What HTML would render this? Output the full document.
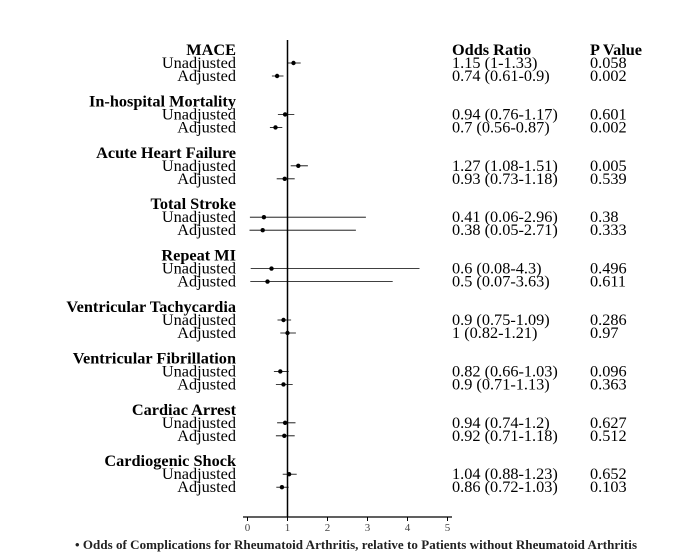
<!DOCTYPE html>
<html><head><meta charset="utf-8">
<style>
body{margin:0;background:#fff;}
svg{display:block;font-family:"Liberation Serif",serif;}
</style></head>
<body>
<svg id="c" width="678" height="554"></svg>
<script>
const outcomes=["MACE","In-hospital Mortality","Acute Heart Failure","Total Stroke","Repeat MI","Ventricular Tachycardia","Ventricular Fibrillation","Cardiac Arrest","Cardiogenic Shock"];
const unadjOR=[1.15,0.94,1.27,0.41,0.6,0.9,0.82,0.94,1.04];
const unadjLo=[1,0.76,1.08,0.06,0.08,0.75,0.66,0.74,0.88];
const unadjHi=[1.33,1.17,1.51,2.96,4.3,1.09,1.03,1.2,1.23];
const unadjP=["0.058","0.601","0.005","0.38","0.496","0.286","0.096","0.627","0.652"];
const adjOR=[0.74,0.7,0.93,0.38,0.5,1,0.9,0.92,0.86];
const adjLo=[0.61,0.56,0.73,0.05,0.07,0.82,0.71,0.71,0.72];
const adjHi=[0.9,0.87,1.18,2.71,3.63,1.21,1.13,1.18,1.03];
const adjP=["0.002","0.002","0.539","0.333","0.611","0.97","0.363","0.512","0.103"];
const ticks=[0,1,2,3,4,5];

const svg=document.getElementById('c');
const NS="http://www.w3.org/2000/svg";
const xs=v=>247.5+v*40;
const gy=i=>50+i*51.4;
const FS=16.3;
function mk(tag,attrs,txt){const e=document.createElementNS(NS,tag);for(const k in attrs)e.setAttribute(k,attrs[k]);if(txt!=null)e.textContent=txt;svg.appendChild(e);return e;}

let e=mk('line',{x1:243,y1:517,x2:452,y2:517,stroke:'#000','stroke-width':1.3});


ticks.forEach(t=>{
  let l=mk('line',{x1:xs(t),y1:517,x2:xs(t),y2:521,stroke:'#000','stroke-width':1});
  
  
  let tx=mk('text',{x:xs(t),y:531,'font-size':11,'text-anchor':'middle',fill:'#444'},String(t));
  
  
});
e=mk('line',{x1:xs(1),y1:40,x2:xs(1),y2:517,stroke:'#000','stroke-width':1.5});



e=mk('text',{x:452,y:55,'font-size':FS,'font-weight':'bold'},'Odds Ratio');


e=mk('text',{x:590,y:55,'font-size':FS,'font-weight':'bold'},'P Value');



function row(y,or,lo,hi,p,label){
  let t=mk('text',{x:236,y:y+5,'font-size':FS,'text-anchor':'end'},label);
  
  
  let l=mk('line',{x1:xs(lo),y1:y,x2:xs(hi),y2:y,stroke:'#000','stroke-width':0.8});
  
  
  let c=mk('circle',{cx:xs(or),cy:y,r:2.2,fill:'#000'});
  
  
  let o=mk('text',{x:452,y:y+5,'font-size':FS},or+' ('+lo+'-'+hi+')');
  
  
  let pv=mk('text',{x:590,y:y+5,'font-size':FS},p);
  
  
}
outcomes.forEach((name,i)=>{
  const y=gy(i);
  let h=mk('text',{x:236,y:y+5,'font-size':FS,'font-weight':'bold','text-anchor':'end'},name);
  
  
  row(y+13,unadjOR[i],unadjLo[i],unadjHi[i],unadjP[i],'Unadjusted');
  row(y+26,adjOR[i],adjLo[i],adjHi[i],adjP[i],'Adjusted');
});
e=mk('text',{x:356,y:549,'font-size':13,'font-weight':'bold','text-anchor':'middle','fill':'#222','textLength':562,'lengthAdjust':'spacing'},'• Odds of Complications for Rheumatoid Arthritis, relative to Patients without Rheumatoid Arthritis');


</script>
</body></html>
